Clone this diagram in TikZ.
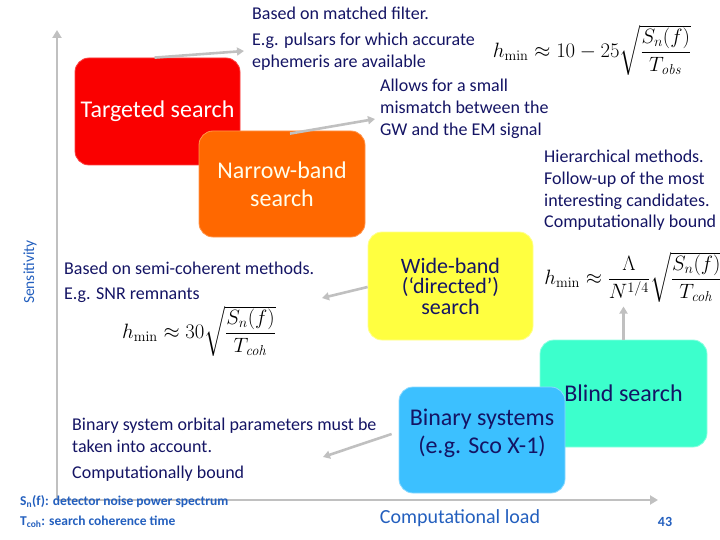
\documentclass[tikz,border=0pt]{standalone}
\usepackage[no-math]{fontspec}
\setmainfont{Carlito}
\usepackage{amsmath}
\usetikzlibrary{arrows.meta}
\definecolor{navy}{RGB}{20,20,100}
\definecolor{axblue}{RGB}{35,95,190}
\definecolor{ggray}{RGB}{192,192,192}
\definecolor{cred}{RGB}{250,0,0}
\definecolor{corange}{RGB}{255,104,0}
\definecolor{cyellow}{RGB}{255,255,64}
\definecolor{caqua}{RGB}{60,255,204}
\definecolor{cblue}{RGB}{60,192,255}
\tikzset{
  box/.style={rounded corners=14pt, inner sep=0pt, align=center,
    font=\fontsize{24}{28}\selectfont, line width=0.8pt},
  txt/.style={font=\fontsize{18}{22}\selectfont, text=navy, anchor=base west, inner sep=0pt},
  frm/.style={font=\fontsize{21}{25}\selectfont, inner sep=0pt},
  garrow/.style={draw=ggray, line width=2.6pt, -{Triangle[length=7pt,width=8pt]}},
  axis/.style={draw=ggray, line width=2.6pt, -{Triangle[length=8pt,width=9pt]}},
  note/.style={font=\fontsize{13.5}{15}\selectfont\bfseries, text=axblue, anchor=base west, inner sep=0pt}
}
\begin{document}
\begin{tikzpicture}[x=1pt,y=-1pt]
\useasboundingbox (0,0) rectangle (720,540);
% axes
\coordinate (o) at (57,500);
\coordinate (ytop) at (57,30);
\coordinate (xend) at (658,500);
\draw[axis] (o) -- (ytop);
\draw[axis] (o) -- (xend);
\node[rotate=90, text=axblue, font=\fontsize{15.5}{18}\selectfont, inner sep=0pt] (sens) at (30,272) {Sensitivity};
\node[text=axblue, font=\fontsize{20}{24}\selectfont, inner sep=0pt] (cload) at (460,518) {Computational load};
\node[text=axblue, font=\fontsize{14}{16}\selectfont\bfseries, inner sep=0pt] (pg) at (665,522) {43};

% boxes
\node[box, fill=cred, draw=cred!75!white, text=white, minimum width=165pt, minimum height=107pt] (targ) at (157.5,111.5) {Targeted search};
\node[box, fill=corange, draw=corange!70!white, text=white!92!yellow, minimum width=166pt, minimum height=106pt] (narrow) at (282,184) {Narrow-band\\search};
\node[box, fill=cyellow, draw=cyellow!60!white, text=navy, font=\fontsize{22}{20.5}\selectfont, minimum width=165pt, minimum height=108pt] (wide) at (450.5,286) {Wide-band\\(‘directed’)\\search};
\node[box, fill=caqua, draw=caqua!60!white, text=navy, font=\fontsize{24}{28}\selectfont, minimum width=167pt, minimum height=107pt] (blind) at (623.5,393.5) {Blind search};
\node[box, fill=cblue, draw=cblue!60!white, text=navy, font=\fontsize{24}{28}\selectfont, minimum width=166pt, minimum height=106pt] (binary) at (482,440) {Binary systems\\(e.g. Sco X-1)\\[-10pt]\mbox{}};

% texts
\node[txt] (t1) at (252,20) {Based on matched filter.};
\node[txt] (t2) at (252,46) {E.g. pulsars for which accurate};
\node[txt] (t3) at (252,68) {ephemeris are available};
\node[txt] (m1) at (380,92) {Allows for a small};
\node[txt] (m2) at (380,114) {mismatch between the};
\node[txt] (m3) at (380,136) {GW and the EM signal};
\node[txt] (h1) at (544,163) {Hierarchical methods.};
\node[txt] (h2) at (544,185) {Follow-up of the most};
\node[txt] (h3) at (544,207) {interesting candidates.};
\node[txt] (h4) at (544,228) {Computationally bound};
\node[txt] (s1) at (64,274) {Based on semi-coherent methods.};
\node[txt] (s2) at (64,299) {E.g. SNR remnants};
\node[txt] (b1) at (72,430) {Binary system orbital parameters must be};
\node[txt] (b2) at (72,452) {taken into account.};
\node[txt] (b3) at (72,478) {Computationally bound};

% formulas
\node[frm] (f1) at (592,50) {$h_{\min}\approx 10-25\sqrt{\dfrac{S_n(f)}{T_{\mathit{obs}}}}$};
\node[frm] (f2) at (633,277) {$h_{\min}\approx \dfrac{\Lambda}{N^{1/4}}\sqrt{\dfrac{S_n(f)}{T_{\mathit{coh}}}}$};
\node[frm] (f3) at (199,331) {$h_{\min}\approx 30\sqrt{\dfrac{S_n(f)}{T_{\mathit{coh}}}}$};

% notes
\node[note] (n1) at (20,505) {S\textsubscript{n}(f): detector noise power spectrum};
\node[note] (n2) at (20,525) {T\textsubscript{coh}: search coherence time};

% connectors
\coordinate (a3) at (322,298);
\coordinate (a4) at (323,457);
\draw[garrow] ([xshift=-3pt]targ.north) -- ([xshift=-8pt,yshift=-5pt]t2.base west);
\draw[garrow] ([xshift=8pt,yshift=-3pt]narrow.north) -- ([xshift=-5pt,yshift=-5pt]m2.base west);
\draw[garrow] ([yshift=-1pt]wide.west) -- (a3);
\draw[garrow] ([xshift=-7pt,yshift=6pt]binary.west) -- (a4);
\draw[garrow] (blind.north) -- ([yshift=-4pt]blind.north |- f2.south);
\end{tikzpicture}
\end{document}
